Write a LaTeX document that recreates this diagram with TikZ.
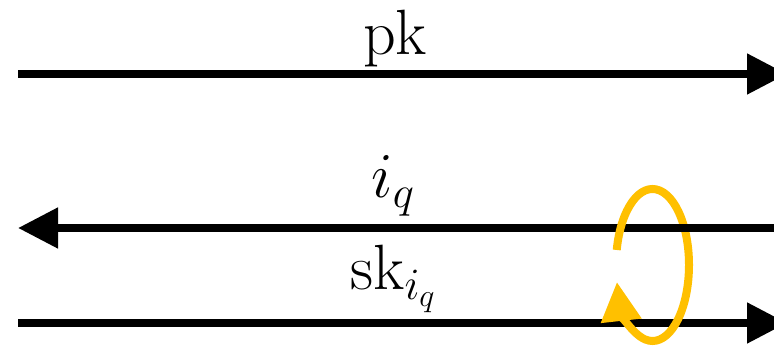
\RequirePackage{fix-cm}
\documentclass[tikz,border=0pt]{standalone}
\usepackage{amsmath}
\usepackage{xcolor}
\usetikzlibrary{arrows.meta,calc}
\definecolor{loopyellow}{HTML}{FFC000}

\begin{document}
\begin{tikzpicture}[x=1pt, y=1pt,
    msg/.style={-{Triangle[length=40pt,width=39pt]}, line width=8pt, black},
    lbl/.style={anchor=base, inner sep=0pt, font=\fontsize{64}{76}\selectfont},
    loopline/.style={-{Triangle[length=39pt,width=39pt]}, line width=8pt, loopyellow}]

\useasboundingbox (0,0) rectangle (774,347);

% End points of the three messages
\coordinate (pkL) at (18,273);
\coordinate (pkR) at (787,273);
\coordinate (iqR) at (800,119);
\coordinate (iqL) at (18,119);
\coordinate (skL) at (18,24);
\coordinate (skR) at (787,24);

% Labels above the messages
\node[lbl] (pk) at (395,292) {pk};
\node[lbl] (iq) at (393,149) {$i_q$};
\node[lbl] (sk) at (393,57) {$\mathrm{sk}_{i_q}$};

% Messages
\draw[msg] (pkL) -- (pkR);
\draw[msg] (iqR) -- (iqL);
\draw[msg] (skL) -- (skR);

% Loop round the last two messages
\coordinate (loopc) at (652.5,82);
\draw[loopline] ($(loopc)+(168.6:36.5 and 76)$)
    arc[start angle=168.6, end angle=-167, x radius=36.5, y radius=76];

% Back of the loop passes under the middle message
\begin{scope}
    \clip (672,108) rectangle (702,130);
    \draw[msg] (iqR) -- (iqL);
\end{scope}

\end{tikzpicture}
\end{document}
